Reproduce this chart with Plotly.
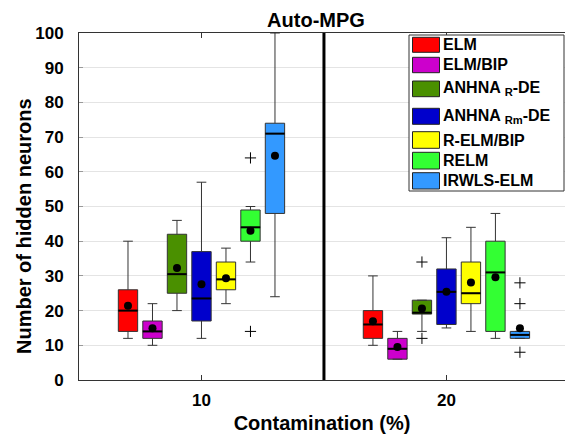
import plotly.graph_objects as go

categories = [10, 20]
series = ["ELM", "ELM/BIP", "ANHNA <sub>R</sub>-DE", "ANHNA <sub>Rm</sub>-DE", "R-ELM/BIP", "RELM", "IRWLS-ELM"]
colors = ["#ff0000", "#cc00cc", "#4a9000", "#0000cc", "#ffff00", "#33ff33", "#3399ff"]

# per series: values at [10%, 20%]
upper = [[40, 30], [22, 14], [46, 23], [57, 41], [38, 44], [50, 48], [100, 14]]
q3 = [[26, 20], [17, 12], [42, 23], [37, 32], [34, 34], [49, 40], [74, 14]]
median = [[20, 16], [14, 9], [30.5, 19.4], [23.5, 25.4], [29, 25], [44, 31], [71, 13]]
q1 = [[14, 12], [12, 6], [25, 19], [17, 16], [26, 22], [40, 14], [48, 12]]
lower = [[12, 10], [10, 6], [20, 14], [12, 15], [22, 14], [34, 12], [24, 12]]
means = [[21.4, 16.9], [14.9, 9.5], [32.3, 20.6], [27.6, 25.4], [29.3, 28.1], [43, 29.6], [64.6, 14.9]]
outliers = [[[], []], [[], []], [[], [34, 12]], [[], []], [[], []], [[64, 14], []], [[], [28, 22, 8]]]

n = len(series)
offsets = [i - (n - 1) / 2 for i in range(n)]
BOXW = 0.79

font = "Liberation Sans, Arial, Helvetica, sans-serif"
W, H = 565, 434
L, R, T, B = 79, 0, 33, 54
PW, PH = W - L - R, H - T - B


def px(xp):
    return (xp - L) / PW


def py(yp):
    return 1 - (yp - T) / PH


fig = go.Figure()

for i, name in enumerate(series):
    xs = [c + offsets[i] for c in categories]
    fig.add_trace(go.Box(
        x=xs, q1=q1[i], median=median[i], q3=q3[i],
        lowerfence=lower[i], upperfence=upper[i],
        name=name, fillcolor=colors[i],
        line=dict(color="#333333", width=1),
        width=BOXW, whiskerwidth=0.5, boxpoints=False,
        showlegend=False,
    ))

# median lines (bold)
medx, medy = [], []
for i in range(n):
    for j, c in enumerate(categories):
        p = c + offsets[i]
        medx += [p - BOXW / 2, p + BOXW / 2, None]
        medy += [median[i][j], median[i][j], None]
fig.add_trace(go.Scatter(x=medx, y=medy, mode="lines", showlegend=False,
                         line=dict(color="black", width=2), hoverinfo="skip"))

# means
mx, my = [], []
for i in range(n):
    for j, c in enumerate(categories):
        mx.append(c + offsets[i])
        my.append(means[i][j])
fig.add_trace(go.Scatter(x=mx, y=my, mode="markers", showlegend=False,
                         marker=dict(color="black", size=8, symbol="circle")))

# outliers
ox, oy = [], []
for i in range(n):
    for j, c in enumerate(categories):
        for v in outliers[i][j]:
            ox.append(c + offsets[i])
            oy.append(v)
fig.add_trace(go.Scatter(x=ox, y=oy, mode="markers", showlegend=False,
                         marker=dict(symbol="cross-thin", size=8,
                                     line=dict(color="black", width=1))))

# separator between groups
fig.add_shape(type="line", xref="x", yref="paper", x0=15, x1=15, y0=0, y1=1,
              line=dict(color="black", width=3))

# custom legend
fig.add_shape(type="rect", xref="paper", yref="paper", layer="above",
              x0=px(409), x1=px(564), y0=py(35), y1=py(191),
              line=dict(color="#333333", width=1), fillcolor="white")
rect_tops = [37.3, 57.3, 81, 108.3, 131.7, 152.3, 172.7]
rect_bots = [52.3, 72.7, 96.7, 124.3, 148.3, 169, 189]
annots = []
for i, name in enumerate(series):
    fig.add_shape(type="rect", xref="paper", yref="paper", layer="above",
                  x0=px(412.5), x1=px(439.5), y0=py(rect_bots[i]), y1=py(rect_tops[i]),
                  line=dict(color="#222222", width=1), fillcolor=colors[i])
    cy = (rect_tops[i] + rect_bots[i]) / 2
    annots.append(dict(xref="paper", yref="paper", x=px(441), y=py(cy),
                       xanchor="left", yanchor="middle", showarrow=False,
                       text="<b>" + name + "</b>",
                       font=dict(size=16, family=font, color="black")))

# y-axis title (placed like the reference, slightly below plot centre)
annots.append(dict(xref="paper", yref="paper", x=px(24), y=py(226),
                   xanchor="center", yanchor="middle", showarrow=False, textangle=-90,
                   text="<b>Number of hidden neurons</b>",
                   font=dict(size=20, family=font, color="black")))

fig.update_layout(
    width=W, height=H,
    margin=dict(l=L, r=R, t=T, b=B),
    paper_bgcolor="white", plot_bgcolor="white",
    font=dict(family=font, size=14, color="black"),
    annotations=annots,
    title=dict(text="<b>Auto-MPG</b>", x=316 / W, xanchor="center",
               y=1 - 20 / H, yanchor="middle", font=dict(size=20, family=font)),
    boxmode="overlay",
    showlegend=False,
    xaxis=dict(range=[5, 24.84], tickvals=categories, ticktext=[str(c) for c in categories],
               showgrid=False, zeroline=False, showline=True, linecolor="#333333",
               linewidth=1, mirror="ticks", ticks="inside", ticklen=5, tickcolor="#333333",
               tickfont=dict(size=17, weight="bold"), ticklabelstandoff=5,
               title=dict(text="<b>Contamination (%)</b>", font=dict(size=20), standoff=8)),
    yaxis=dict(range=[0, 100], dtick=10, showgrid=True, gridcolor="#e4e4e4",
               zeroline=False, showline=True, linecolor="#333333", linewidth=1,
               ticks="inside", ticklen=4, tickcolor="#999999",
               tickfont=dict(size=17, weight="bold"), ticklabelstandoff=11),
)

fig.write_html("out.html")
